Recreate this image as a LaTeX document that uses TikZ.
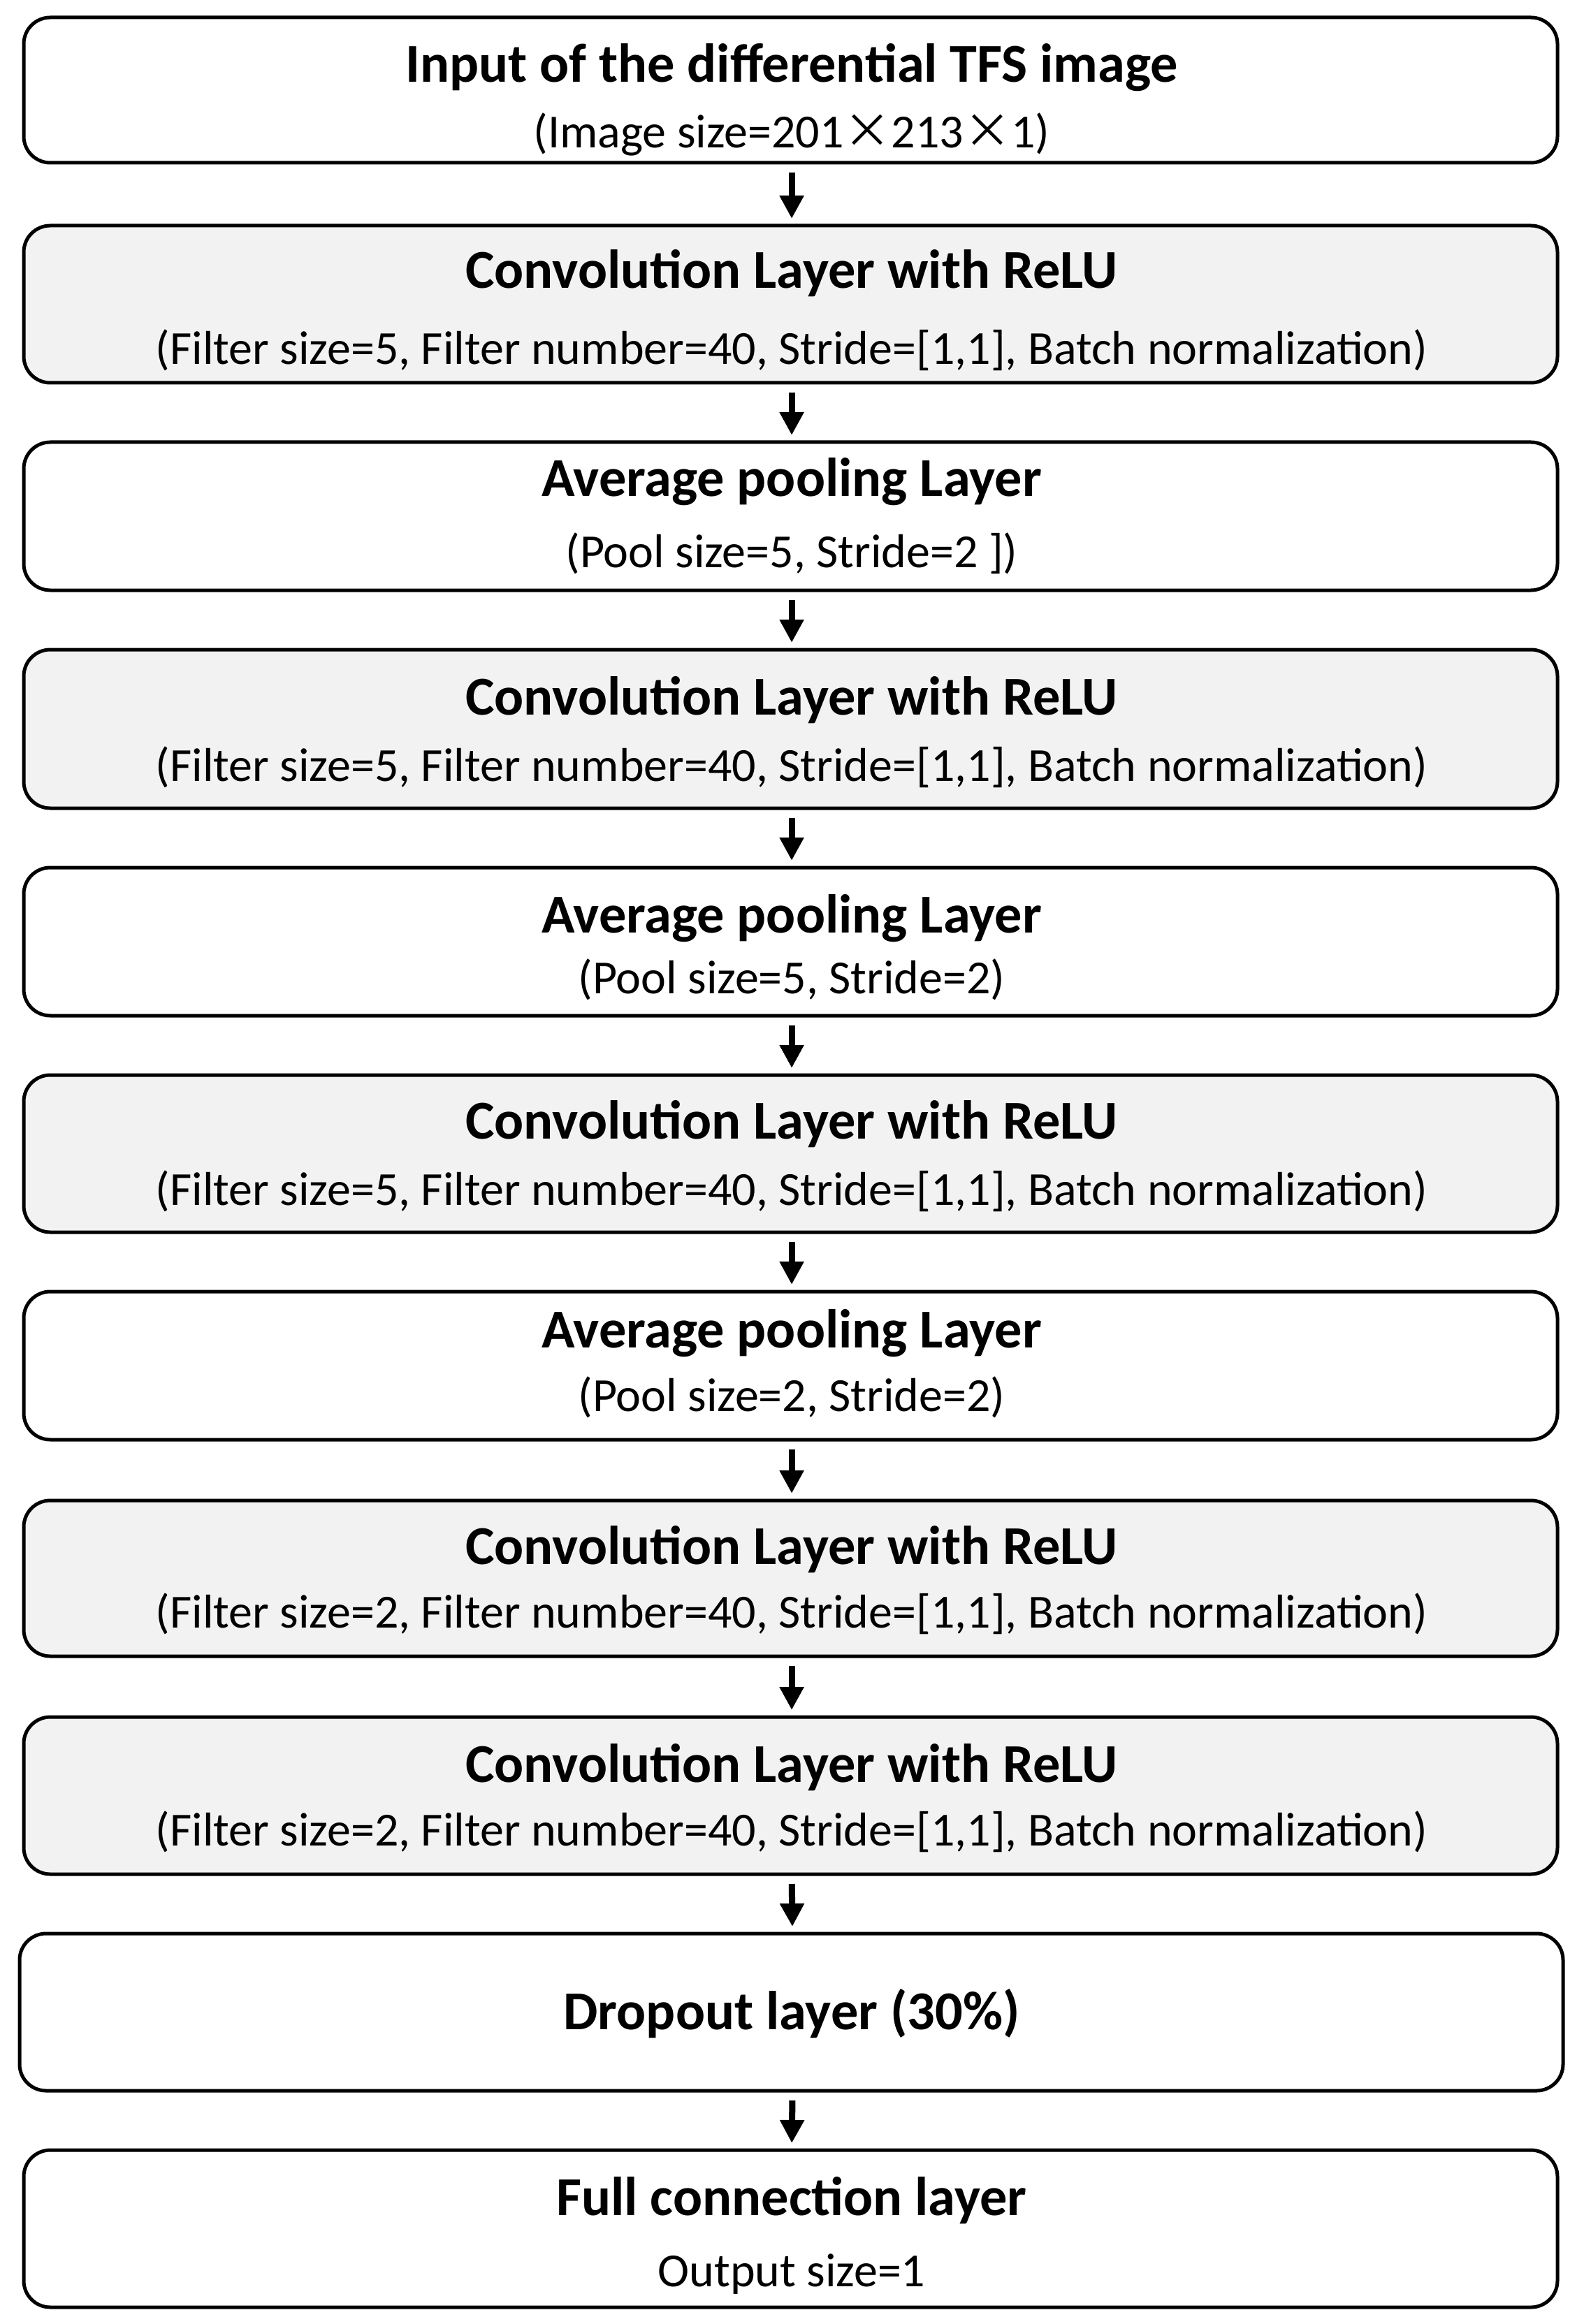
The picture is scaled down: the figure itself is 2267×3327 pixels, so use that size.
\documentclass[tikz,border=0pt]{standalone}
\usepackage{fontspec}
\setmainfont{Carlito}
\newfontfamily\cjk{Noto Sans CJK SC}
\usetikzlibrary{arrows.meta}
\definecolor{convgray}{HTML}{F2F2F2}
\tikzset{
  layerbox/.style={draw=black, line width=1.25pt, rounded corners=9.5pt, inner sep=0pt, outer sep=0pt, minimum width=548.75pt},
  convbox/.style={layerbox, fill=convgray},
  plainbox/.style={layerbox, fill=white},
  ttl/.style={font=\fontsize{19.6}{22}\selectfont\bfseries, inner sep=0pt, text height=0.75em, text depth=0.25em, yshift=-3.75pt},
  sub/.style={font=\fontsize{17}{20}\selectfont, inner sep=0pt, text height=0.75em, text depth=0.25em, yshift=-3.25pt},
  flow/.style={line width=2.25pt, -{Triangle[width=8.25pt, length=8.25pt]}, shorten <=3.5pt, shorten >=2.5pt}
}
\begin{document}
\begin{tikzpicture}[x=0.25pt, y=-0.25pt]
\useasboundingbox (0,0) rectangle (2267,3327);
% boxes
\node[plainbox, minimum height=52pt] (b1) at (1131.5,129) {};
\node[convbox, minimum height=56.25pt] (b2) at (1131.5,435.5) {};
\node[plainbox, minimum height=53pt] (b3) at (1131.5,739) {};
\node[convbox, minimum height=56.75pt] (b4) at (1131.5,1043.5) {};
\node[plainbox, minimum height=53pt] (b5) at (1131.5,1348) {};
\node[convbox, minimum height=56.25pt] (b6) at (1131.5,1651.5) {};
\node[plainbox, minimum height=53pt] (b7) at (1131.5,1955) {};
\node[convbox, minimum height=55.75pt] (b8) at (1131.5,2259.5) {};
\node[convbox, minimum height=56.25pt] (b9) at (1131.5,2570.5) {};
\node[plainbox, minimum height=56.25pt, minimum width=552.25pt] (b10) at (1132.5,2880.5) {};
\node[plainbox, minimum height=56.25pt] (b11) at (1131.5,3190.5) {};
% texts
\node[ttl] (t1) at (1133,93) {Input of the differential TFS image};
\node[sub] (s1) at (1133,189) {(Image size=201{\cjk ×}213{\cjk ×}1)};
\node[ttl] (t2) at (1133,388) {Convolution Layer with ReLU};
\node[sub] (s2) at (1133,499) {(Filter size=5, Filter number=40, Stride=[1,1], Batch normalization)};
\node[ttl] (t3) at (1133,686) {Average pooling Layer};
\node[sub] (s3) at (1133,790) {(Pool size=5, Stride=2 ])};
\node[ttl] (t4) at (1133,998) {Convolution Layer with ReLU};
\node[sub] (s4) at (1133,1095) {(Filter size=5, Filter number=40, Stride=[1,1], Batch normalization)};
\node[ttl] (t5) at (1133,1310) {Average pooling Layer};
\node[sub] (s5) at (1133,1399) {(Pool size=5, Stride=2)};
\node[ttl] (t6) at (1133,1605) {Convolution Layer with ReLU};
\node[sub] (s6) at (1133,1702) {(Filter size=5, Filter number=40, Stride=[1,1], Batch normalization)};
\node[ttl] (t7) at (1133,1904) {Average pooling Layer};
\node[sub] (s7) at (1133,1997) {(Pool size=2, Stride=2)};
\node[ttl] (t8) at (1133,2214) {Convolution Layer with ReLU};
\node[sub] (s8) at (1133,2307) {(Filter size=2, Filter number=40, Stride=[1,1], Batch normalization)};
\node[ttl] (t9) at (1133,2526) {Convolution Layer with ReLU};
\node[sub] (s9) at (1133,2619) {(Filter size=2, Filter number=40, Stride=[1,1], Batch normalization)};
\node[ttl] (t10) at (1133,2880) {Dropout layer (30\%)};
\node[ttl] (t11) at (1133,3146) {Full connection layer};
\node[sub] (s11) at (1133,3250) {Output size=1};
% arrows
\foreach \a/\b in {b1/b2,b2/b3,b3/b4,b4/b5,b5/b6,b6/b7,b7/b8,b8/b9,b9/b10,b10/b11}{
  \draw[flow] ([xshift=0.4pt]\a.south) -- ([xshift=0.4pt]\b.north);
}
\end{tikzpicture}
\end{document}
